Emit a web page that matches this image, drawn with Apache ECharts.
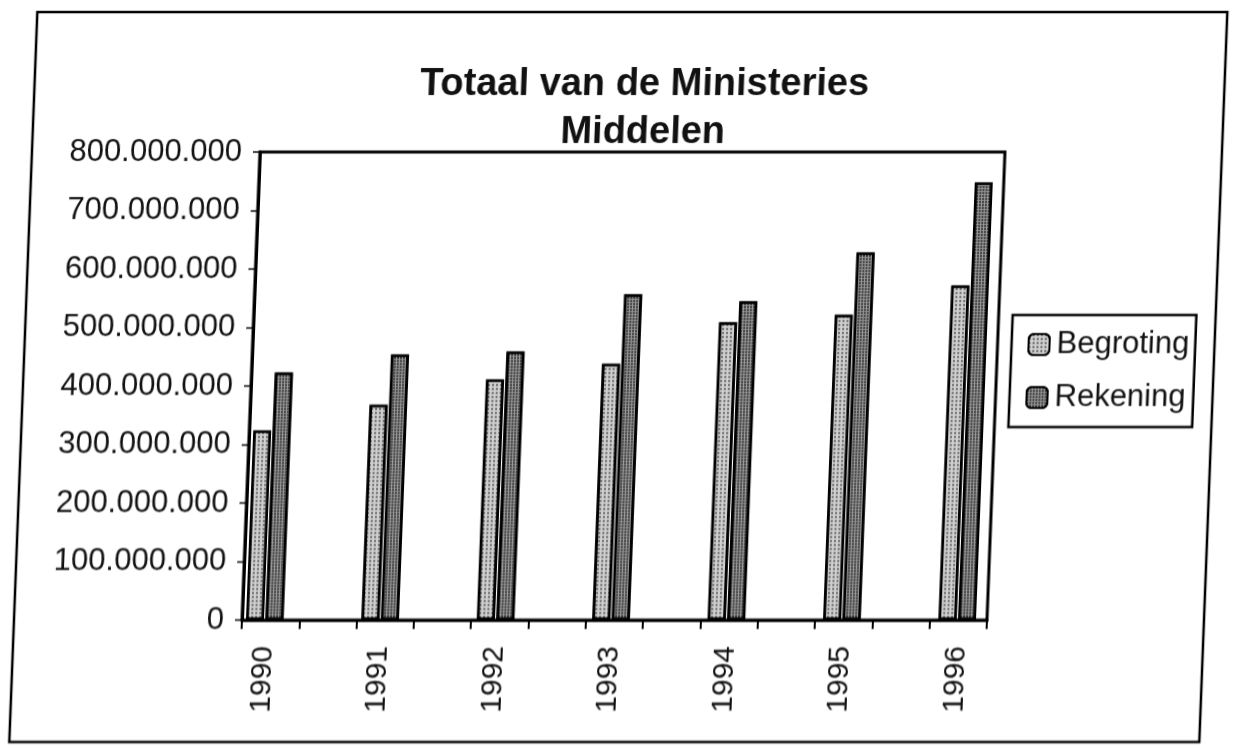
<!DOCTYPE html>
<html>
<head>
<meta charset="utf-8">
<script src="https://cdn.jsdelivr.net/npm/echarts@6/dist/echarts.min.js"></script>
<style>
  html, body { margin: 0; padding: 0; background: #fff; overflow: hidden; }
  /* the scan leans a little: top edge sits further right than the bottom */
  #chart { width: 1235px; height: 748px; transform: skewX(-2.2deg); transform-origin: 50% 385px; }
</style>
</head>
<body>
<div id="chart"></div>
<script>
// values (guilders)
const years = ['1990', '1991', '1992', '1993', '1994', '1995', '1996'];
const begroting = [324000000, 368000000, 411000000, 438000000, 509000000, 522000000, 572000000];
const rekening = [423000000, 454000000, 459000000, 557000000, 545000000, 628000000, 748000000];

const yMax = 800000000;
const yStep = 100000000;

// dutch style thousands: 800.000.000
const fmt = (v) => String(v).replace(/\B(?=(\d{3})+(?!\d))/g, '.');

const font = '"Liberation Sans", Arial, sans-serif';

const chart = echarts.init(document.getElementById('chart'), null, { renderer: 'canvas' });

const option = {
  backgroundColor: '#fff',
  animation: false,
  title: {
    text: 'Totaal van de Ministeries\nMiddelen',
    left: 628,
    top: 56,
    textAlign: 'center',
    textStyle: {
      fontFamily: font,
      fontWeight: 'bold',
      fontSize: 38,
      lineHeight: 48,
      color: '#111'
    }
  },
  legend: {
    orient: 'vertical',
    left: 1010,
    top: 315,
    padding: [14, 6, 14, 16],
    itemGap: 22,
    itemWidth: 21,
    itemHeight: 21,
    backgroundColor: '#fff',
    borderColor: '#000',
    borderWidth: 2.5,
    borderRadius: 0,
    data: ['Begroting', 'Rekening'],
    textStyle: { fontFamily: font, fontSize: 31, color: '#111', padding: [0, 0, 0, 2] }
  },
  graphic: [
    {
      // outer border of the chart sheet
      type: 'rect',
      shape: { x: 23, y: 12, width: 1190, height: 730 },
      style: { fill: 'none', stroke: '#000', lineWidth: 2.5 },
      z: 0
    }
  ],
  grid: [
    // grid 0: holds the bars, category slots
    { left: 216, right: 211, top: 152, bottom: 128 },
    // grid 1: plot frame, value axis and the floor ticks
    { left: 251, right: 239, top: 152, bottom: 128, show: true, borderColor: '#000', borderWidth: 3, backgroundColor: 'transparent' }
  ],
  xAxis: [
    {
      type: 'category',
      gridIndex: 0,
      data: years,
      axisLine: { show: false },
      axisTick: { show: false },
      axisLabel: {
        rotate: 90,
        margin: 26,
        fontFamily: font,
        fontSize: 30,
        color: '#111'
      }
    },
    {
      type: 'value',
      gridIndex: 1,
      min: 0,
      max: 13,
      interval: 1,
      axisLine: { show: true, lineStyle: { color: '#000', width: 3 } },
      axisTick: { show: true, inside: false, length: 9, lineStyle: { color: '#000', width: 2 } },
      axisLabel: { show: false },
      splitLine: { show: false }
    }
  ],
  yAxis: [
    {
      type: 'value',
      gridIndex: 0,
      min: 0,
      max: yMax,
      interval: yStep,
      show: false
    },
    {
      type: 'value',
      gridIndex: 1,
      min: 0,
      max: yMax,
      interval: yStep,
      axisLine: { show: true, lineStyle: { color: '#000', width: 3 } },
      axisTick: { show: true, length: 7, lineStyle: { color: '#000', width: 1.5 } },
      splitLine: { show: false },
      axisLabel: {
        margin: 18,
        fontFamily: font,
        fontSize: 31,
        color: '#111',
        formatter: fmt
      }
    }
  ],
  series: [
    {
      name: 'Begroting',
      type: 'bar',
      xAxisIndex: 0,
      yAxisIndex: 0,
      data: begroting,
      barWidth: 18,
      barGap: '8%',
      itemStyle: {
        color: '#cfcfcf',
        borderColor: '#000',
        borderWidth: 2.5,
        decal: {
          symbol: 'rect',
          symbolSize: 1,
          dashArrayX: [2, 2],
          dashArrayY: [2, 2],
          color: 'rgba(0,0,0,0.5)'
        }
      },
      z: 3
    },
    {
      name: 'Rekening',
      type: 'bar',
      xAxisIndex: 0,
      yAxisIndex: 0,
      data: rekening,
      barWidth: 18,
      itemStyle: {
        color: '#999',
        borderColor: '#000',
        borderWidth: 2.5,
        decal: {
          symbol: 'rect',
          symbolSize: 1,
          dashArrayX: [2, 1],
          dashArrayY: [2, 1],
          color: 'rgba(0,0,0,0.6)'
        }
      },
      z: 3
    }
  ]
};

if (option && typeof option === 'object') {
  chart.setOption(option);
}

window.addEventListener('resize', () => {
  chart.resize();
});
</script>
</body>
</html>
